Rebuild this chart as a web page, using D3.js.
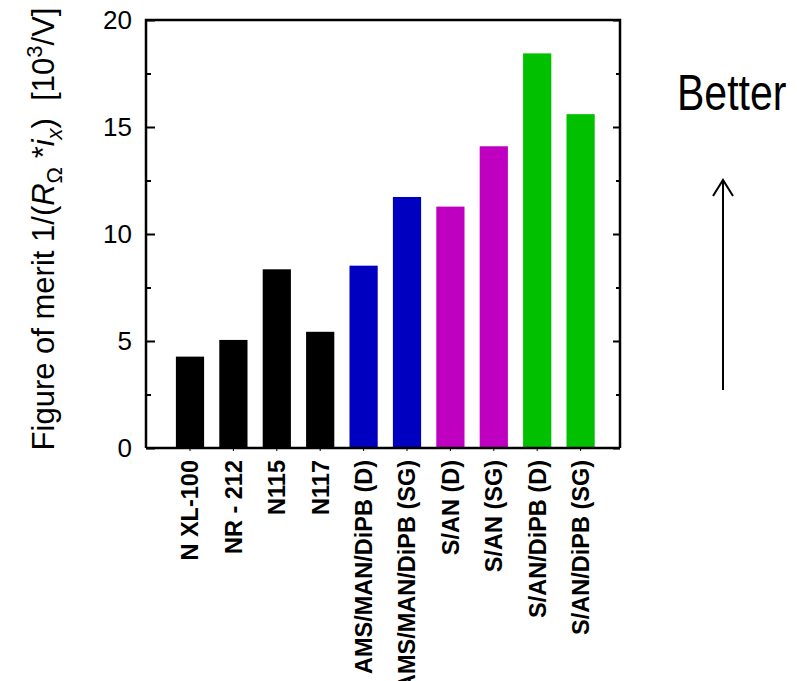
<!DOCTYPE html>
<html><head><meta charset="utf-8">
<script src="https://cdn.jsdelivr.net/npm/d3@7"></script>
<style>body{margin:0;background:#fff}svg{display:block}</style>
</head><body>
<script>
const categories = ["N XL-100","NR - 212","N115","N117","AMS/MAN/DiPB (D)","AMS/MAN/DiPB (SG)","S/AN (D)","S/AN (SG)","S/AN/DiPB (D)","S/AN/DiPB (SG)"];
const values = [4.27, 5.05, 8.35, 5.43, 8.52, 11.73, 11.28, 14.1, 18.44, 15.6];
const barColors = ["#000000","#000000","#000000","#000000","#0000c0","#0000c0","#c000c0","#c000c0","#00c000","#00c000"];
const yTicks = [0, 5, 10, 15, 20];
const yMinorTicks = [2.5, 7.5, 12.5, 17.5];

(function(){
const W = 797, H = 681;
const pL = 146, pR = 620, pT = 20, pB = 448;
const svg = d3.select("body").append("svg").attr("width", W).attr("height", H);

const y = d3.scaleLinear().domain([0, 20]).range([pB, pT]);
const x = d3.scaleBand().domain(categories).range([168.3, 602.3]).paddingInner(0.35).paddingOuter(0.175);

svg.append("g").selectAll("rect").data(values).join("rect")
  .attr("x", (d, i) => x(categories[i]))
  .attr("width", x.bandwidth())
  .attr("y", d => y(d))
  .attr("height", d => y(0) - y(d))
  .attr("fill", (d, i) => barColors[i]);

const font = "'Liberation Sans', Arial, sans-serif";

svg.append("path").attr("d", `M${pL},${pB}V${pT}H${pR}V${pB}`).attr("fill","none").attr("stroke","#000").attr("stroke-width",2.5);

const yAxis = d3.axisLeft(y).tickValues(yTicks).tickSize(-9).tickPadding(14).tickFormat(d3.format("d"));
const gy = svg.append("g").attr("transform", `translate(${pL},0)`).call(yAxis);
gy.select(".domain").remove();
gy.selectAll("line").attr("stroke-width", 2);
gy.selectAll("text").attr("font-family", font).attr("font-size", 26).attr("fill","#000").attr("x", -14);
const gym = svg.append("g").attr("transform", `translate(${pL},0)`).call(d3.axisLeft(y).tickValues(yMinorTicks).tickSize(-5).tickFormat(""));
gym.select(".domain").remove(); gym.selectAll("line").attr("stroke-width", 2);

const gr = svg.append("g").attr("transform", `translate(${pR},0)`).call(d3.axisRight(y).tickValues(yTicks).tickSize(-7).tickFormat(""));
gr.select(".domain").remove(); gr.selectAll("line").attr("stroke-width", 2);
const grm = svg.append("g").attr("transform", `translate(${pR},0)`).call(d3.axisRight(y).tickValues(yMinorTicks).tickSize(-4).tickFormat(""));
grm.select(".domain").remove(); grm.selectAll("line").attr("stroke-width", 2);

const xAxis = d3.axisBottom(x).tickSize(3).tickPadding(0);
const gx = svg.append("g").attr("transform", `translate(0,${pB})`).call(xAxis);
gx.select(".domain").attr("stroke-width", 2.5).attr("d", `M${pL},0H${pR}`);
gx.selectAll("line").attr("stroke-width", 1);
gx.selectAll("text")
  .attr("font-family", font).attr("font-size", 23.5).attr("font-weight", "bold").attr("fill","#000")
  .attr("transform", "rotate(-90)")
  .attr("text-anchor", "end")
  .attr("x", -12).attr("y", 0).attr("dy", "0.36em");

const title = svg.append("text")
  .attr("transform", `translate(54,229) rotate(-90)`)
  .attr("text-anchor", "middle")
  .style("white-space", "pre")
  .attr("font-family", font).attr("font-size", 31).attr("fill", "#000");
title.append("tspan").text("Figure of merit 1/(");
title.append("tspan").attr("font-style","italic").text("R");
title.append("tspan").attr("font-size", 22).attr("dy", 8).text("Ω");
title.append("tspan").attr("dy", -8).text(" *");
title.append("tspan").attr("font-style","italic").text("i");
title.append("tspan").attr("font-size", 22).attr("dy", 8).attr("font-style","italic").text("x");
title.append("tspan").attr("dy", -8).text(")  [10");
title.append("tspan").attr("font-size", 22).attr("dy", -12).text("3");
title.append("tspan").attr("dy", 12).text("/V]");

svg.append("text").attr("transform", "translate(677,110) scale(0.82,1)")
  .attr("font-family", font)
  .attr("font-size", 50).attr("fill", "#000").text("Better");

svg.append("line").attr("x1", 723).attr("x2", 723).attr("y1", 390).attr("y2", 181).attr("stroke","#000").attr("stroke-width", 2);
svg.append("path").attr("d", "M713,196L723,180L733,196").attr("fill","none").attr("stroke","#000").attr("stroke-width", 2);
})();
</script>
</body></html>
